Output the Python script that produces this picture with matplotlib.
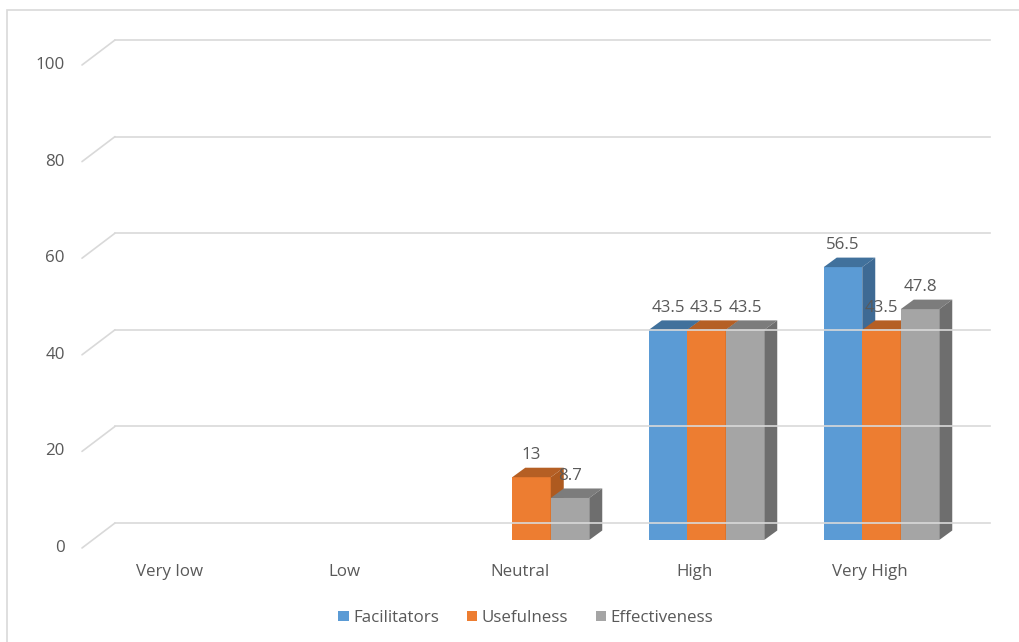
import matplotlib.pyplot as plt
from matplotlib.patches import Polygon, Patch, Rectangle, ConnectionPatch
from matplotlib.transforms import ScaledTranslation

categories = ['Very low', 'Low', 'Neutral', 'High', 'Very High']
series = ['Facilitators', 'Usefulness', 'Effectiveness']
facilitators = [0, 0, 0, 43.5, 56.5]
usefulness = [0, 0, 13, 43.5, 43.5]
effectiveness = [0, 0, 8.7, 43.5, 47.8]
y_ticks = [0, 20, 40, 60, 80, 100]

face = ['#5B9BD5', '#ED7D31', '#A5A5A5']
top = ['#41719C', '#B55F24', '#7C7C7C']
side = ['#3E6A94', '#AE5A1F', '#6E6E6E']
grid_c = '#D9D9D9'
text_c = '#595959'

plt.rcParams['font.family'] = ['Open Sans', 'DejaVu Sans']
fs = 12.2

W, H = 1020, 642
fig = plt.figure(figsize=(W / 100, H / 100), dpi=100)
# front wall of the plot: x 82..957 px, value 0 at y=548, 100 at y=65
ax = fig.add_axes([82 / W, (H - 548) / H, 875 / W, 483 / H])
ax.set_xlim(-0.5, 4.5)
ax.set_ylim(0, 100)
ax.axis('off')


def shift(dx, dy):
    # offset in pixels from the data transform
    return ax.transData + ScaledTranslation(dx / fig.dpi, dy / fig.dpi, fig.dpi_scale_trans)


# outer chart border
fig.patches.append(Rectangle((7 / W, -0.01), 1.0, (H - 10) / H + 0.01,
                             transform=fig.transFigure, fill=False,
                             edgecolor=grid_c, lw=1.2))

# back wall gridlines with the diagonal on the side wall
back = shift(33, 25)
for v in y_ticks:
    ax.plot([-0.5, 4.5], [v, v], color=grid_c, lw=1.2, transform=back, clip_on=False)
    con = ConnectionPatch(xyA=(-0.5, v), coordsA=ax.transData,
                          xyB=(-0.5, v), coordsB=back, color=grid_c, lw=1.2)
    ax.add_artist(con)
    ax.text(-0.5, v, str(v), transform=shift(-17, 0), ha='right', va='center',
            fontsize=fs, color=text_c)

for k, c in enumerate(categories):
    ax.text(k, 0, c, transform=shift(0, -24), ha='center', va='center',
            fontsize=fs, color=text_c)

# 3d-looking columns
w = 0.22
ppx = 875 / 5       # px per category unit
ppy = 483 / 100     # px per value unit
ddx, ddy = 13 / ppx, 9.5 / ppy
bar_t = shift(12, 8)
data = [facilitators, usefulness, effectiveness]
for k in range(len(categories)):
    for i, vals in enumerate(data):
        h = vals[k]
        if h <= 0:
            continue
        x0 = k + (i - 1) * w - w / 2
        x1 = x0 + w
        ax.add_patch(Polygon([(x0, 0), (x1, 0), (x1, h), (x0, h)], closed=True,
                             facecolor=face[i], edgecolor='none', transform=bar_t, clip_on=False))
        ax.add_patch(Polygon([(x0, h), (x1, h), (x1 + ddx, h + ddy), (x0 + ddx, h + ddy)],
                             closed=True, facecolor=top[i], edgecolor='none',
                             transform=bar_t, clip_on=False))
        ax.add_patch(Polygon([(x1, 0), (x1 + ddx, ddy), (x1 + ddx, h + ddy), (x1, h)],
                             closed=True, facecolor=side[i], edgecolor='none',
                             transform=bar_t, clip_on=False))
        ax.text((x0 + x1) / 2, h, f'{h:g}', transform=shift(12, 8 + 22),
                ha='center', va='center', fontsize=fs, color=text_c)

handles = [Patch(facecolor=face[i], edgecolor='none', label=s) for i, s in enumerate(series)]
fig.legend(handles=handles, loc='center', bbox_to_anchor=(526 / W, 24 / H), ncol=3,
           frameon=False, handlelength=0.6, handleheight=0.6, handletextpad=0.3,
           columnspacing=1.6, prop={'size': fs}, labelcolor=text_c)

fig.savefig('out.png', dpi=100, facecolor='white')
